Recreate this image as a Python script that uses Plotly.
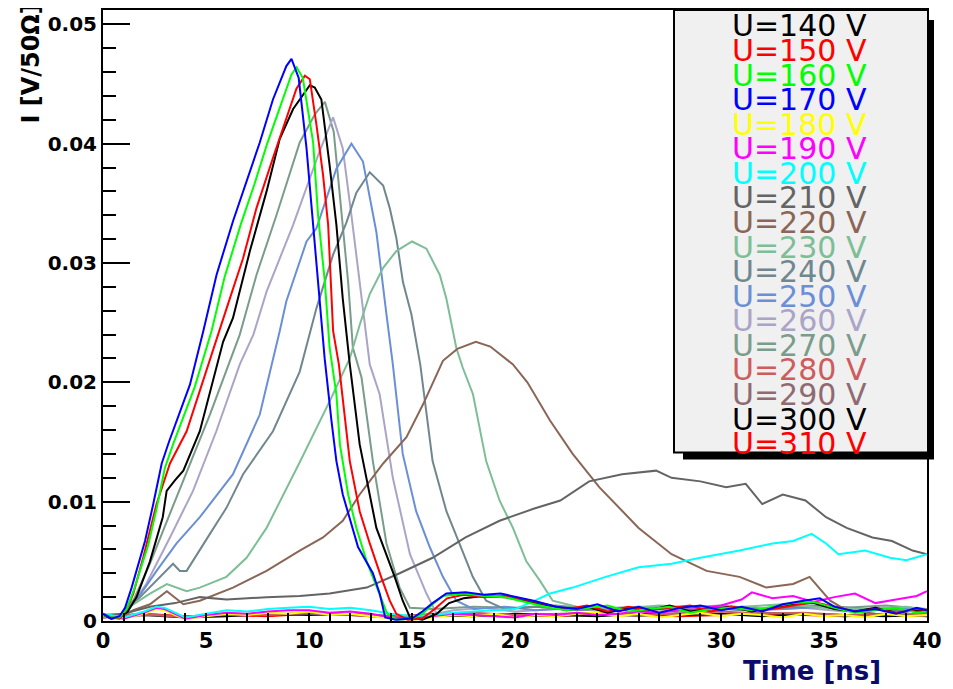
import plotly.graph_objects as go

# ---------------- data (time in ns, current in V/50 Ohm) -------------
labels = ["U=140 V", "U=150 V", "U=160 V", "U=170 V", "U=180 V", "U=190 V", "U=200 V",
          "U=210 V", "U=220 V", "U=230 V", "U=240 V", "U=250 V", "U=260 V", "U=270 V",
          "U=280 V", "U=290 V", "U=300 V", "U=310 V"]
colors = ["#000000", "#ff0000", "#00ff00", "#0000ff", "#ffff00", "#ff00ff", "#00ffff",
          "#646464", "#8a6656", "#7dbe97", "#71878f", "#6a8fd6", "#aaa5c6", "#7a9c8a",
          "#cd5c5c", "#8f6a72", "#000000", "#ff0000"]

t_140 = [0, 0.4, 0.8, 1.2, 1.63, 2.28, 2.9, 3.09, 3.5, 3.9, 4.7, 5.35, 5.83, 6.31, 7.13, 7.94, 8.58,
         9.23, 9.7, 10.04, 10.28, 10.6, 11.0, 11.33, 11.64, 11.98, 12.46, 13.27, 14.16, 14.55, 14.9,
         15.5, 16.2, 16.8, 17.5, 18.5, 19.5, 20.5, 21.5, 22.5, 23.5, 24.5, 25.5, 26.5, 27.5, 28.5,
         29.5, 30.5, 31.5, 32.5, 33.5, 34.5, 35.5, 36.5, 37.5, 38.5, 39.5, 40]
i_140 = [.0005, .0002, .0003, .0008, .0020, .0050, .0087, .0109, .0118, .0126, .0159, .0201, .0234,
         .0254, .0310, .0360, .0404, .0429, .0440, .0449, .0447, .0437, .0382, .0332, .0270, .0215,
         .0148, .0078, .0037, .0017, .0003, .0001, .0006, .0015, .0019, .0021, .0020, .0017, .0013,
         .0009, .0012, .0007, .0011, .0009, .0013, .0008, .0010, .0012, .0008, .0011, .0014, .0015,
         .0010, .0008, .0011, .0007, .0009, .0008]

t_150 = [0, 0.4, 0.8, 1.1, 1.47, 1.95, 2.6, 3.25, 4.06, 4.7, 5.35, 6.0, 6.8, 7.45, 8.25, 8.9, 9.39,
         9.8, 10.04, 10.36, 10.68, 10.93, 11.17, 11.45, 11.98, 12.46, 12.95, 13.5, 13.92, 14.24,
         14.8, 15.5, 16.1, 16.7, 17.5, 18.5, 19.5, 20.5, 21.5, 22.5, 23.5, 24.5, 25.5, 26.5, 27.5,
         28.5, 29.5, 30.5, 31.5, 32.5, 33.5, 34.5, 35.5, 36.5, 37.5, 38.5, 39.5, 40]
i_150 = [.0006, .0003, .0002, .0008, .0023, .0053, .0098, .0132, .0159, .0193, .0229, .0262, .0304,
         .0346, .0388, .0421, .0446, .0457, .0454, .0416, .0374, .0332, .0243, .0215, .0134, .0092,
         .0065, .0037, .0017, .0006, .0001, .0002, .0010, .0019, .0022, .0020, .0021, .0018, .0014,
         .0010, .0013, .0008, .0012, .0009, .0011, .0013, .0008, .0012, .0009, .0010, .0013, .0016,
         .0012, .0008, .0010, .0007, .0010, .0009]

t_160 = [0, 0.4, 0.8, 1.15, 1.5, 1.85, 2.2, 2.6, 3.0, 3.4, 3.8, 4.45, 5.27, 5.9, 6.7, 7.35, 7.95,
         8.6, 9.15, 9.4, 9.7, 10.2, 10.44, 10.77, 11.0, 11.33, 11.5, 11.9, 12.3, 12.8, 13.43, 13.8,
         14.3, 15.0, 15.5, 16.0, 16.5, 17.5, 18.5, 19.5, 20.5, 21.5, 22.5, 23.5, 24.5, 25.5, 26.5,
         27.5, 28.5, 29.5, 30.5, 31.5, 32.5, 33.5, 34.5, 35.5, 36.5, 37.5, 38.5, 39.5, 40]
i_160 = [.0005, .0003, .0003, .0010, .0026, .0045, .0064, .0094, .0128, .0148, .0166, .0196, .0243,
         .0288, .0333, .0366, .0399, .0432, .0458, .0464, .0455, .0401, .0340, .0284, .0229, .0190,
         .0148, .0106, .0078, .0050, .0023, .0006, .0001, .0002, .0006, .0014, .0021, .0023, .0021,
         .0020, .0016, .0012, .0009, .0011, .0013, .0008, .0010, .0012, .0007, .0010, .0011, .0009,
         .0012, .0015, .0016, .0011, .0007, .0009, .0011, .0007, .0008]

t_170 = [0, 0.4, 0.8, 1.07, 1.39, 1.7, 2.04, 2.44, 2.85, 3.2, 3.57, 4.22, 4.87, 5.51, 6.31, 6.97,
         7.61, 8.25, 8.9, 9.15, 9.5, 9.88, 10.2, 10.52, 10.76, 11.09, 11.33, 11.64, 12.38, 13.1,
         13.43, 13.7, 14.2, 15.0, 15.5, 16.0, 16.67, 17.6, 18.5, 19.3, 20.1, 20.9, 22.0, 23, 24,
         25, 26, 27, 28, 29, 30, 31, 32, 33, 34, 34.8, 35.5, 36.5, 37.5, 38.5, 39.5, 40]
i_170 = [.0006, .0002, .0004, .0011, .0028, .0046, .0067, .0098, .0132, .0150, .0168, .0198, .0243,
         .0290, .0335, .0368, .0401, .0437, .0465, .0471, .0455, .0396, .0332, .0270, .0220, .0168,
         .0134, .0106, .0062, .0040, .0023, .0003, .0001, .0002, .0008, .0015, .0023, .0024, .0022,
         .0023, .0020, .0017, .0012, .0010, .0014, .0008, .0012, .0007, .0011, .0013, .0009, .0012,
         .0008, .0014, .0017, .0019, .0012, .0008, .0010, .0006, .0011, .0009]

t_180 = [0, 1, 2, 2.6, 3.0, 3.5, 4.0, 5, 6, 7, 8, 9, 10, 11, 12, 13, 14, 15, 16, 17, 18, 19, 20,
         21, 22, 23, 24, 25, 26, 27, 28, 29, 30, 31, 32, 33, 34, 35, 36, 37, 38, 39, 40]
i_180 = [.0004, .0002, .0006, .0010, .0009, .0005, .0002, .0004, .0006, .0005, .0007, .0006, .0008,
         .0005, .0006, .0004, .0002, .0001, .0003, .0005, .0004, .0006, .0003, .0005, .0004, .0006,
         .0007, .0004, .0006, .0003, .0005, .0007, .0004, .0006, .0005, .0003, .0006, .0004, .0005,
         .0003, .0006, .0004, .0005]

t_190 = [0, 1, 2, 2.6, 3.0, 3.5, 4.0, 5, 6, 7, 8, 9, 10, 11, 12, 13, 14, 15, 16, 17, 18, 19, 20,
         21, 22, 23, 24, 25, 26, 27, 28, 29, 30, 31, 31.5, 32.5, 33.5, 34.5, 35.5, 36.5, 37.5,
         38.5, 39.5, 40]
i_190 = [.0005, .0002, .0007, .0011, .0010, .0006, .0002, .0005, .0007, .0006, .0008, .0009, .0009,
         .0007, .0008, .0006, .0003, .0002, .0004, .0006, .0005, .0004, .0003, .0006, .0005, .0007,
         .0005, .0006, .0008, .0007, .0009, .0010, .0013, .0018, .0024, .0019, .0021, .0016, .0020,
         .0023, .0015, .0018, .0021, .0025]

t_200 = [0, 1, 2, 2.6, 3.0, 3.5, 4.0, 5, 6, 7, 8, 9, 10, 11, 12, 13, 14, 15, 16, 17, 18, 19, 20,
         20.7, 21.7, 22.8, 24.4, 26.0, 27.6, 29.0, 30.9, 32.5, 33.5, 34.4, 35.1, 35.7, 37.0, 38.2,
         39.0, 40]
i_200 = [.0006, .0003, .0008, .0012, .0011, .0007, .0003, .0006, .0009, .0008, .0010, .0011, .0012,
         .0010, .0011, .0009, .0006, .0004, .0005, .0007, .0008, .0009, .0010, .0015, .0023, .0028,
         .0037, .0045, .0048, .0053, .0059, .0065, .0067, .0073, .0065, .0056, .0059, .0053, .0051,
         .0056]

t_210 = [0, 1, 2.28, 3.5, 4.7, 6, 7.94, 9.55, 11.0, 12.8, 14.4, 16.0, 17.6, 19.25, 20.9, 22.2,
         23.6, 25.2, 26.85, 27.6, 29.0, 30.25, 31.2, 32.0, 33.0, 34.1, 35.1, 36.1, 37.35, 38.3,
         39.3, 40]
i_210 = [.0005, .0006, .0012, .0015, .0020, .0018, .0020, .0021, .0023, .0028, .0040, .0053, .0070,
         .0084, .0094, .0101, .0117, .0123, .0126, .0120, .0117, .0112, .0115, .0098, .0106, .0101,
         .0087, .0078, .0070, .0067, .0059, .0056]

t_220 = [0, 0.8, 1.47, 2.28, 3.1, 3.9, 4.7, 6.31, 7.94, 9.55, 10.68, 11.64, 12.46, 13.6, 14.73,
         15.55, 16.5, 17.2, 18.1, 18.8, 19.9, 20.6, 21.7, 22.8, 24.1, 26.0, 27.6, 29.3, 30.9, 32.2,
         33.5, 34.3, 35.3, 36.1, 37.5, 39, 40]
i_220 = [.0004, .0003, .0009, .0014, .0025, .0014, .0017, .0028, .0042, .0059, .0070, .0084, .0106,
         .0132, .0154, .0182, .0218, .0228, .0234, .0230, .0215, .0200, .0168, .0140, .0112, .0078,
         .0056, .0042, .0037, .0028, .0031, .0037, .0017, .0009, .0006, .0005, .0004]

t_230 = [0, 0.8, 1.47, 2.28, 3.1, 4.06, 4.7, 5.99, 6.97, 7.94, 9.55, 11.0, 11.98, 12.46, 12.95,
         13.6, 14.24, 15.0, 15.7, 16.35, 16.67, 17.15, 17.47, 17.96, 18.6, 19.25, 19.9, 20.55,
         21.2, 21.83, 23, 25, 27, 29, 31, 33, 35, 37, 39, 40]
i_230 = [.0004, .0004, .0014, .0023, .0031, .0025, .0028, .0037, .0053, .0078, .0133, .0184, .0220,
         .0248, .0274, .0296, .0310, .0318, .0312, .0290, .0270, .0229, .0212, .0190, .0134, .0101,
         .0078, .0050, .0034, .0017, .0012, .0010, .0013, .0011, .0012, .0014, .0011, .0010, .0012,
         .0009]

t_240 = [0, 0.8, 1.8, 2.6, 3.4, 3.73, 4.06, 5.19, 6.0, 6.8, 8.25, 9.55, 10.36, 11.17, 11.82, 12.3,
         12.95, 13.6, 13.92, 14.24, 14.56, 14.97, 15.4, 16.0, 16.67, 17.3, 17.95, 18.6, 19.5,
         21, 23, 25, 27, 29, 31, 33, 35, 37, 39, 40]
i_240 = [.0005, .0004, .0020, .0034, .0048, .0042, .0042, .0073, .0095, .0123, .0159, .0209, .0262,
         .0307, .0334, .0359, .0376, .0365, .0346, .0321, .0284, .0257, .0215, .0134, .0092, .0065,
         .0037, .0017, .0010, .0012, .0009, .0011, .0010, .0012, .0009, .0011, .0013, .0010, .0009,
         .0008]

t_250 = [0, 0.8, 1.8, 2.6, 3.57, 4.7, 6.31, 7.61, 8.58, 8.9, 9.88, 10.36, 11.33, 12.06, 12.62,
         12.95, 13.27, 13.76, 14.07, 14.55, 15.2, 15.86, 16.5, 17.15, 18, 19.5, 21, 23, 25, 27, 29,
         31, 33, 35, 37, 39, 40]
i_250 = [.0005, .0004, .0022, .0042, .0065, .0087, .0123, .0173, .0243, .0268, .0318, .0329, .0379,
         .0400, .0385, .0354, .0326, .0257, .0215, .0140, .0092, .0062, .0037, .0017, .0010, .0012,
         .0009, .0011, .0010, .0012, .0009, .0011, .0010, .0012, .0009, .0010, .0008]

t_260 = [0, 0.8, 1.4, 2.1, 3.25, 4.37, 5.5, 6.64, 7.3, 7.94, 9.23, 10.5, 11.17, 11.64, 12.06,
         12.46, 12.95, 13.43, 14.07, 14.9, 15.7, 16.2, 17, 18.5, 20, 22, 24, 26, 28, 30, 32, 34,
         36, 38, 40]
i_260 = [.0005, .0004, .0014, .0031, .0070, .0109, .0159, .0215, .0240, .0276, .0332, .0393, .0422,
         .0396, .0340, .0284, .0215, .0190, .0120, .0056, .0023, .0006, .0009, .0011, .0008, .0010,
         .0009, .0011, .0008, .0010, .0009, .0011, .0008, .0010, .0009]

t_270 = [0, 0.8, 1.5, 2.28, 3.25, 4.22, 5.19, 6.64, 7.45, 8.42, 9.55, 10.3, 10.77, 11.2, 11.5, 11.9,
         12.13, 12.55, 13.1, 13.76, 14.4, 14.9, 16, 18, 20, 22, 24, 26, 28, 30, 32, 34, 36, 38, 40]
i_270 = [.0005, .0004, .0018, .0048, .0090, .0132, .0173, .0240, .0290, .0340, .0401, .0425, .0435,
         .0410, .0354, .0284, .0229, .0204, .0134, .0065, .0028, .0011, .0010, .0012, .0011, .0013,
         .0010, .0012, .0011, .0013, .0010, .0012, .0011, .0013, .0010]

t_280 = [0, 2, 4, 6, 8, 10, 12, 14, 16, 18, 20, 22, 24, 26, 28, 30, 32, 34, 36, 38, 40]
i_280 = [.0004, .0006, .0003, .0006, .0005, .0007, .0006, .0004, .0005, .0007, .0005, .0006,
         .0007, .0005, .0006, .0008, .0006, .0007, .0005, .0006, .0005]

t_290 = [0, 2, 4, 6, 8, 10, 12, 14, 16, 18, 20, 22, 24, 26, 28, 30, 32, 34, 36, 38, 40]
i_290 = [.0003, .0005, .0004, .0005, .0006, .0006, .0005, .0003, .0006, .0006, .0004, .0005,
         .0006, .0004, .0007, .0005, .0007, .0006, .0004, .0005, .0006]

t_300 = [0, 2, 4, 6, 8, 10, 12, 14, 16, 18, 20, 22, 24, 26, 28, 30, 32, 34, 36, 38, 40]
i_300 = [.0004, .0005, .0003, .0004, .0006, .0005, .0006, .0004, .0005, .0004, .0006, .0005,
         .0004, .0006, .0005, .0006, .0004, .0006, .0005, .0004, .0005]

t_310 = [0, 2, 4, 6, 8, 10, 12, 14, 16, 18, 20, 22, 24, 26, 28, 30, 32, 34, 36, 38, 40]
i_310 = [.0003, .0006, .0004, .0005, .0004, .0006, .0005, .0003, .0004, .0006, .0005, .0004,
         .0006, .0005, .0004, .0005, .0006, .0005, .0004, .0006, .0004]

series_t = [t_140, t_150, t_160, t_170, t_180, t_190, t_200, t_210, t_220, t_230, t_240, t_250,
            t_260, t_270, t_280, t_290, t_300, t_310]
series_i = [i_140, i_150, i_160, i_170, i_180, i_190, i_200, i_210, i_220, i_230, i_240, i_250,
            i_260, i_270, i_280, i_290, i_300, i_310]

x_ticks = [0, 5, 10, 15, 20, 25, 30, 35, 40]
y_ticks = [0, 0.01, 0.02, 0.03, 0.04, 0.05]
y_tick_text = ["0", "0.01", "0.02", "0.03", "0.04", "0.05"]

# drawing order (last = on top)
draw_order = [17, 16, 15, 14, 13, 12, 11, 10, 9, 8, 7, 4, 5, 6, 0, 1, 2, 3]

# ---------------- figure ----------------
# the page body has an 8 px margin, so the figure is 8 px smaller and all
# page-pixel positions below are converted with that offset
OFF = 8
W, H = 945, 681
L, R, T, B = 95, 26, 0, 68
pw, ph = W - L - R, H - T - B


def px(x):
    return (x - OFF - L) / pw


def py(y):
    return (OFF + T + ph - y) / ph


fig = go.Figure()
for k in draw_order:
    fig.add_trace(go.Scatter(x=series_t[k], y=series_i[k], mode="lines", name=labels[k],
                             line=dict(color=colors[k], width=2), showlegend=False,
                             hoverinfo="skip"))

tickfont_y = dict(family="DejaVu Sans", size=20, color="black", weight="bold")
tickfont_x = dict(family="DejaVu Sans", size=21, color="black", weight="bold")
fig.update_layout(
    width=W, height=H, margin=dict(l=L, r=R, t=T, b=B),
    paper_bgcolor="white", plot_bgcolor="white",
    xaxis=dict(range=[0, 40], tickvals=x_ticks, ticks="inside", ticklen=8, tickwidth=1.5,
               tickcolor="black", showgrid=False, zeroline=False, showline=True, linewidth=2,
               linecolor="black", mirror=True, tickfont=tickfont_x,
               minor=dict(dtick=1, ticks="inside", ticklen=8, tickwidth=1.5, tickcolor="black")),
    yaxis=dict(range=[0, 0.0512], tickvals=y_ticks, ticktext=y_tick_text, ticks="inside",
               ticklen=27, tickwidth=1.5, tickcolor="black", showgrid=False, zeroline=False,
               showline=True, linewidth=2, linecolor="black", mirror=True, tickfont=tickfont_y,
               minor=dict(tick0=0, dtick=0.002, ticks="inside", ticklen=13, tickwidth=1.5,
                          tickcolor="black")),
)

# legend box (shadow + box) drawn as shapes, entries as coloured text
box_l, box_t, box_r, box_b = 674, 8, 928, 452
fig.add_shape(type="rect", xref="paper", yref="paper", x0=px(683), x1=px(934), y0=py(459),
              y1=py(18), fillcolor="black", line=dict(width=0), layer="above")
fig.add_shape(type="rect", xref="paper", yref="paper", x0=px(box_l), x1=px(box_r), y0=py(box_b),
              y1=py(box_t), fillcolor="#f0f0f0", line=dict(color="black", width=2), layer="above")
row0, drow = 24, 24.65
for k, lab in enumerate(labels):
    fig.add_annotation(xref="paper", yref="paper", x=px(799), y=py(row0 + k * drow), text=lab,
                       showarrow=False, xanchor="center", yanchor="middle",
                       font=dict(family="DejaVu Sans", size=30, color=colors[k]))

# axis titles
fig.add_annotation(xref="paper", yref="paper", x=px(883), y=py(671), text="Time [ns]",
                   showarrow=False, xanchor="right", yanchor="middle",
                   font=dict(family="DejaVu Sans", size=26, color="#0b0b6b", weight="bold"))
fig.add_annotation(xref="paper", yref="paper", x=px(31), y=py(124), text="I [V/50Ω]",
                   showarrow=False, textangle=-90, xanchor="center", yanchor="bottom",
                   font=dict(family="DejaVu Sans", size=24, color="black", weight="bold"))

fig.write_html("out.html")
